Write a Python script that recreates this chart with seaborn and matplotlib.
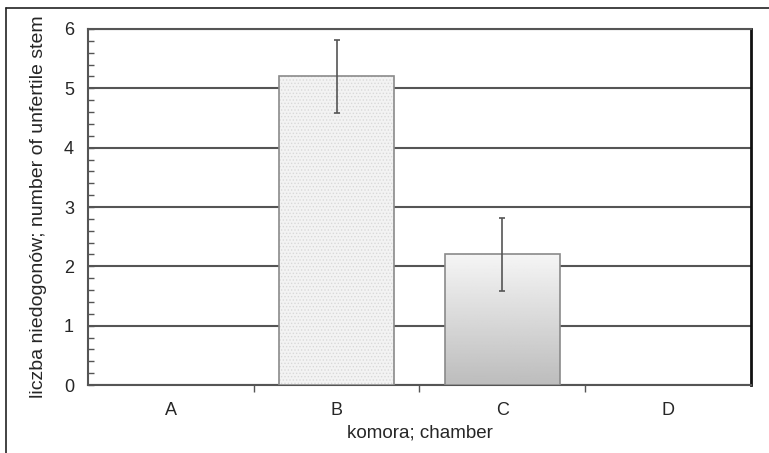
import matplotlib
matplotlib.use('Agg')
import matplotlib.pyplot as plt
import numpy as np
import pandas as pd
import seaborn as sns
from matplotlib.lines import Line2D
from matplotlib.patches import Rectangle
from matplotlib.ticker import MultipleLocator, FixedLocator

chambers = ['A', 'B', 'C', 'D']
stems = [0.0, 5.2, 2.2, 0.0]
stem_err = [0.0, 0.62, 0.62, 0.0]

sns.set_style('white')
plt.rcParams['font.family'] = ['Liberation Sans', 'DejaVu Sans']
plt.rcParams['hatch.linewidth'] = 0.6

df = pd.DataFrame({'chamber': chambers, 'stems': stems})

fig = plt.figure(figsize=(7.69, 4.53), dpi=100)
ax = fig.add_axes([0.1144, 0.150, 0.8622, 0.786])

sns.barplot(data=df, x='chamber', y='stems', ax=ax, width=0.69,
            color='#f0f0f0', edgecolor='#8a8a8a', linewidth=1.2, zorder=3)

bars = ax.patches
for b in bars:
    if b.get_height() == 0:
        b.set_linewidth(0)

# light stipple on bar B
bb = bars[1]
ax.add_patch(Rectangle((bb.get_x(), bb.get_y()), bb.get_width(), bb.get_height(),
                       facecolor='none', edgecolor='#d9d9d9', hatch='.....',
                       linewidth=0, zorder=3.2))
bb.set_zorder(3.4)
bb.set_facecolor('none')
ax.add_patch(Rectangle((bb.get_x(), bb.get_y()), bb.get_width(), bb.get_height(),
                       facecolor='#f3f3f3', edgecolor='none', zorder=3.0))

# gradient fill for bar C
bc = bars[2]
x0, y0 = bc.get_x(), bc.get_y()
grad = np.linspace(0.96, 0.74, 100).reshape(-1, 1)
im = ax.imshow(grad, cmap='gray', vmin=0, vmax=1, aspect='auto',
               extent=[x0, x0 + bc.get_width(), y0, y0 + bc.get_height()],
               origin='upper', zorder=3.5)
im.set_clip_path(bc)
bc.set_facecolor('none')
bc.set_zorder(4)

pos = np.arange(len(chambers))
show = [i for i, e in enumerate(stem_err) if e > 0]
ax.errorbar(pos[show], np.array(stems)[show], yerr=np.array(stem_err)[show],
            fmt='none', ecolor='#555555', elinewidth=1.2, capsize=2, capthick=1.2, zorder=5)

ax.set_xlim(-0.5, 3.5)
ax.set_ylim(0, 6)
ax.yaxis.set_major_locator(MultipleLocator(1))
ax.yaxis.set_minor_locator(MultipleLocator(0.2))
ax.xaxis.set_minor_locator(FixedLocator([0.5, 1.5, 2.5]))
ax.grid(axis='y', color='#555555', linewidth=1.5, zorder=1)
ax.set_axisbelow(True)

ax.tick_params(axis='y', which='major', direction='in', length=4, width=1,
               color='#555555', labelsize=13, pad=10, left=True)
ax.tick_params(axis='y', which='minor', direction='in', length=4, width=1,
               color='#555555', left=True)
ax.tick_params(axis='x', which='major', length=0, labelsize=13, pad=12)
ax.tick_params(axis='x', which='minor', direction='out', length=5, width=1,
               color='#555555', bottom=True)

for side in ['left', 'bottom', 'top']:
    ax.spines[side].set_color('#555555')
    ax.spines[side].set_linewidth(1.5)
ax.spines['right'].set_color('#111111')
ax.spines['right'].set_linewidth(2)

ax.set_xlabel('komora; chamber', fontsize=13.5, labelpad=4)
ax.set_ylabel('liczba niedogonów; number of unfertile stem', fontsize=14, labelpad=12)

# outer frame around the figure
fig.add_artist(Line2D([6 / 769, 1.0], [1 - 8 / 453, 1 - 8 / 453], color='#222222', lw=1.2))
fig.add_artist(Line2D([6 / 769, 6 / 769], [0.0, 1 - 8 / 453], color='#222222', lw=1.2))

fig.savefig('out.png', dpi=100)
